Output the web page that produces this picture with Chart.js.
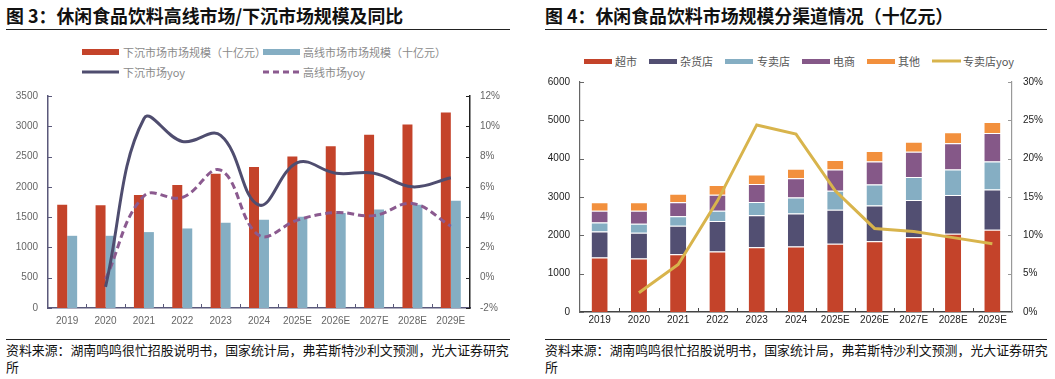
<!DOCTYPE html>
<html>
<head>
<meta charset="utf-8">
<script src="https://cdn.jsdelivr.net/npm/chart.js@4.4.1/dist/chart.umd.min.js"></script>
<style>
  html, body { margin:0; padding:0; background:#fff; }
  body { width:1055px; height:379px; position:relative; overflow:hidden; font-family:"Noto Sans CJK SC","Noto Sans",sans-serif; }
  .title { position:absolute; top:2px; font-size:17.9px; font-weight:bold; color:#111; white-space:nowrap; line-height:26px; }
  .rule { position:absolute; height:1.5px; background:#222; }
  .foot { position:absolute; top:341px; font-size:12.9px; line-height:17px; color:#111; white-space:nowrap; }
  .box { position:absolute; }
  .lg { position:absolute; font-size:11px; white-space:nowrap; line-height:14px; }
  .sw { position:absolute; }
</style>
</head>
<body>
<div class="title" style="left:6px;">图 3：休闲食品饮料高线市场/下沉市场规模及同比</div>
<div class="rule" style="left:6px; width:504px; top:28.5px;"></div>
<div class="title" style="left:545px;">图 4：休闲食品饮料市场规模分渠道情况（十亿元）</div>
<div class="rule" style="left:545px; width:502px; top:28.5px;"></div>

<div id="legendL"></div>
<div id="legendR"></div>

<div class="box" style="left:0; top:80px; width:525px; height:258px;"><canvas id="c1"></canvas></div>
<div class="box" style="left:530px; top:65px; width:525px; height:273px;"><canvas id="c2"></canvas></div>

<div class="rule" style="left:6px; width:504px; top:338.5px; height:1px;"></div>
<div class="foot" style="left:6px;">资料来源：湖南鸣鸣很忙招股说明书，国家统计局，弗若斯特沙利文预测，光大证券研究<br>所</div>
<div class="rule" style="left:545px; width:502px; top:338.5px; height:1px;"></div>
<div class="foot" style="left:545px;">资料来源：湖南鸣鸣很忙招股说明书，国家统计局，弗若斯特沙利文预测，光大证券研究<br>所</div>

<script>
// ---------- Data: chart 3 ----------
const years = ['2019','2020','2021','2022','2023','2024','2025E','2026E','2027E','2028E','2029E'];
const lowerTierSize = [1705, 1695, 1866, 2031, 2218, 2329, 2500, 2670, 2859, 3030, 3228];
const upperTierSize = [1192, 1192, 1253, 1313, 1407, 1457, 1507, 1568, 1627, 1705, 1772];
const lowerTierYoy  = [null, -0.6, 10.5, 9.0, 9.4, 4.8, 7.6, 6.9, 6.9, 6.0, 6.6];
const upperTierYoy  = [null, -0.1, 5.4, 5.3, 7.1, 2.8, 3.8, 4.3, 4.1, 4.9, 3.4];
const leftTicks3  = [0, 500, 1000, 1500, 2000, 2500, 3000, 3500];
const rightTicks3 = [-2, 0, 2, 4, 6, 8, 10, 12];

// ---------- Data: chart 4 ----------
const supermarket = [1419, 1393, 1504, 1581, 1692, 1710, 1778, 1846, 1949, 2043, 2145];
const grocery     = [684, 675, 744, 795, 829, 859, 889, 932, 974, 1008, 1052];
const specialty   = [230, 231, 248, 265, 351, 419, 495, 547, 598, 667, 726];
const ecommerce   = [308, 342, 367, 419, 470, 504, 556, 598, 658, 684, 744];
const others      = [222, 222, 222, 256, 248, 248, 248, 274, 265, 290, 290];
const specialtyYoy = [null, 2.5, 6.2, 14.5, 24.4, 23.2, 15.8, 10.9, 10.5, 9.7, 8.9];
const leftTicks4  = [0, 1000, 2000, 3000, 4000, 5000, 6000];
const rightTicks4 = [0, 5, 10, 15, 20, 25, 30];

// ---------- Colors ----------
const RED = '#C4432A', LBLUE = '#85AEC3', NAVY = '#524F72', PURPLE = '#855888', ORANGE = '#F2903D', GOLD = '#D8B44C';
const NAVYLINE = '#4F4D6F', PURPLEDASH = '#8B5A8F';

// ---------- HTML legends ----------
function legend(el, items, color) {
  let h = '';
  items.forEach(it => {
    const cy = it.y;
    if (it.type === 'box') {
      h += `<div class="sw" style="left:${it.x}px; top:${cy - it.h/2}px; width:${it.w}px; height:${it.h}px; background:${it.c};"></div>`;
    } else {
      h += `<svg class="sw" style="left:${it.x}px; top:${cy - 3}px;" width="${it.w}" height="6"><line x1="0" y1="3" x2="${it.w}" y2="3" stroke="${it.c}" stroke-width="${it.lw}" ${it.dash ? 'stroke-dasharray="'+it.dash+'"' : ''}/></svg>`;
    }
    h += `<div class="lg" style="left:${it.tx}px; top:${cy - 7.5}px; color:${color};">${it.label}</div>`;
  });
  document.getElementById(el).innerHTML = h;
}
legend('legendL', [
  {type:'box', x:82, y:52, w:37, h:6, c:RED, tx:123, label:'下沉市场市场规模（十亿元）'},
  {type:'box', x:263, y:52, w:37, h:6, c:LBLUE, tx:303, label:'高线市场市场规模（十亿元）'},
  {type:'line', x:82, y:72, w:37, lw:3, c:NAVYLINE, tx:123, label:'下沉市场yoy'},
  {type:'line', x:263, y:72, w:37, lw:3, c:PURPLEDASH, dash:'6 4', tx:303, label:'高线市场yoy'}
], '#8a8a8a');
legend('legendR', [
  {type:'box', x:584, y:61, w:28, h:5, c:RED, tx:615, label:'超市'},
  {type:'box', x:649, y:61, w:28, h:5, c:NAVY, tx:680, label:'杂货店'},
  {type:'box', x:725, y:61, w:28, h:5, c:LBLUE, tx:757, label:'专卖店'},
  {type:'box', x:802, y:61, w:28, h:5, c:PURPLE, tx:833, label:'电商'},
  {type:'box', x:867, y:61, w:28, h:5, c:ORANGE, tx:898, label:'其他'},
  {type:'line', x:932, y:61, w:29, lw:3, c:GOLD, tx:963, label:'专卖店yoy'}
], '#555');

// ---------- Inner tick marks plugin ----------
const innerTicks = {
  id: 'innerTicks',
  afterDraw(chart, args, opts) {
    const {ctx, chartArea: a, scales} = chart;
    ctx.save();
    ctx.lineWidth = 1;
    const seg = (x1, y1, x2, y2, c) => { ctx.strokeStyle = c; ctx.beginPath(); ctx.moveTo(x1, y1); ctx.lineTo(x2, y2); ctx.stroke(); };
    const len = opts.len || 4;
    scales.y.ticks.forEach((t, i) => { const py = Math.round(scales.y.getPixelForTick(i)) + 0.5; seg(a.left, py, a.left + len, py, opts.leftColor); });
    scales.y1.ticks.forEach((t, i) => { const py = Math.round(scales.y1.getPixelForTick(i)) + 0.5; seg(a.right, py, a.right - len, py, opts.rightColor); });
    const x = scales.x;
    for (let i = 0; i < x.ticks.length - 1; i++) {
      const px = Math.round(x.getPixelForValue(i + 0.5)) + 0.5;
      seg(px, a.bottom, px, a.bottom - len, opts.bottomColor);
    }
    ctx.restore();
  }
};

const tickFont = {family: '"Liberation Sans", Arial, sans-serif', size: 10};
const noGrid = {display: false, drawTicks: false};

// ---------- Chart 3 ----------
new Chart(document.getElementById('c1'), {
  data: {
    labels: years,
    datasets: [
      {type:'line', label:'下沉市场yoy', data: lowerTierYoy, yAxisID:'y1', borderColor: NAVYLINE, borderWidth: 3, tension: 0.4, pointRadius: 0, fill:false, order: 0},
      {type:'line', label:'高线市场yoy', data: upperTierYoy, yAxisID:'y1', borderColor: PURPLEDASH, borderWidth: 3, borderDash:[7,4], tension: 0.4, pointRadius: 0, fill:false, order: 0},
      {type:'bar', label:'下沉市场市场规模（十亿元）', data: lowerTierSize, yAxisID:'y', backgroundColor: RED, categoryPercentage: 0.52, barPercentage: 1, order: 1},
      {type:'bar', label:'高线市场市场规模（十亿元）', data: upperTierSize, yAxisID:'y', backgroundColor: LBLUE, categoryPercentage: 0.52, barPercentage: 1, order: 1}
    ]
  },
  options: {
    responsive: true, maintainAspectRatio: false, animation: false,
    layout: {padding: {top: 16, left: 0, right: 0, bottom: 8}},
    plugins: {legend: {display: false}, tooltip: {enabled: false}, innerTicks: {leftColor:'#5a587a', rightColor:'#222', bottomColor:'#5a587a'}},
    scales: {
      x: {grid: noGrid, border: {display: true, color: '#5a587a', width: 1.5},
          ticks: {font: tickFont, color: '#666', padding: 7, maxRotation: 0}, afterFit: s => { s.height = 22; }},
      y: {position: 'left', min: 0, max: 3500, grid: noGrid, border: {display: true, color: '#5a587a', width: 1.5},
          afterBuildTicks: s => { s.ticks = leftTicks3.map(v => ({value: v})); },
          ticks: {font: tickFont, color: '#666', padding: 10, callback: v => String(v)}, afterFit: s => { s.width = 48; }},
      y1: {position: 'right', min: -2, max: 12, grid: noGrid, border: {display: true, color: '#222', width: 1.5},
          afterBuildTicks: s => { s.ticks = rightTicks3.map(v => ({value: v})); },
          ticks: {font: tickFont, color: '#666', padding: 10, callback: v => v + '%'}, afterFit: s => { s.width = 55; }}
    }
  },
  plugins: [innerTicks]
});

// ---------- Chart 4 ----------
const segBorder = {top: 1, bottom: 0, left: 0, right: 0};
const mkBar = (label, data, color) => ({type:'bar', label, data, yAxisID:'y', backgroundColor: color, borderColor: 'rgba(255,255,255,0.85)', borderWidth: segBorder, borderSkipped: false, categoryPercentage: 1, barPercentage: 0.41, stack: 's', order: 1});
new Chart(document.getElementById('c2'), {
  data: {
    labels: years,
    datasets: [
      {type:'line', label:'专卖店yoy', data: specialtyYoy, yAxisID:'y1', borderColor: GOLD, borderWidth: 3, tension: 0, pointRadius: 0, fill: false, order: 0},
      mkBar('超市', supermarket, RED),
      mkBar('杂货店', grocery, NAVY),
      mkBar('专卖店', specialty, LBLUE),
      mkBar('电商', ecommerce, PURPLE),
      mkBar('其他', others, ORANGE)
    ]
  },
  options: {
    responsive: true, maintainAspectRatio: false, animation: false,
    layout: {padding: {top: 13, left: 0, right: 0, bottom: 4}},
    plugins: {legend: {display: false}, tooltip: {enabled: false}, innerTicks: {leftColor:'#666', rightColor:'#999', bottomColor:'#444'}},
    scales: {
      x: {stacked: true, grid: noGrid, border: {display: true, color: '#444', width: 1.5},
          ticks: {font: tickFont, color: '#222', padding: 2, maxRotation: 0}, afterFit: s => { s.height = 22; }},
      y: {stacked: true, position: 'left', min: 0, max: 6000, grid: noGrid, border: {display: true, color: '#666', width: 1.2},
          afterBuildTicks: s => { s.ticks = leftTicks4.map(v => ({value: v})); },
          ticks: {font: tickFont, color: '#222', padding: 10, callback: v => String(v)}, afterFit: s => { s.width = 50; }},
      y1: {position: 'right', min: 0, max: 30, grid: noGrid, border: {display: true, color: '#999', width: 1.2},
          afterBuildTicks: s => { s.ticks = rightTicks4.map(v => ({value: v})); },
          ticks: {font: tickFont, color: '#222', padding: 11, callback: v => v + '%'}, afterFit: s => { s.width = 43; }}
    }
  },
  plugins: [innerTicks]
});
</script>
</body>
</html>
